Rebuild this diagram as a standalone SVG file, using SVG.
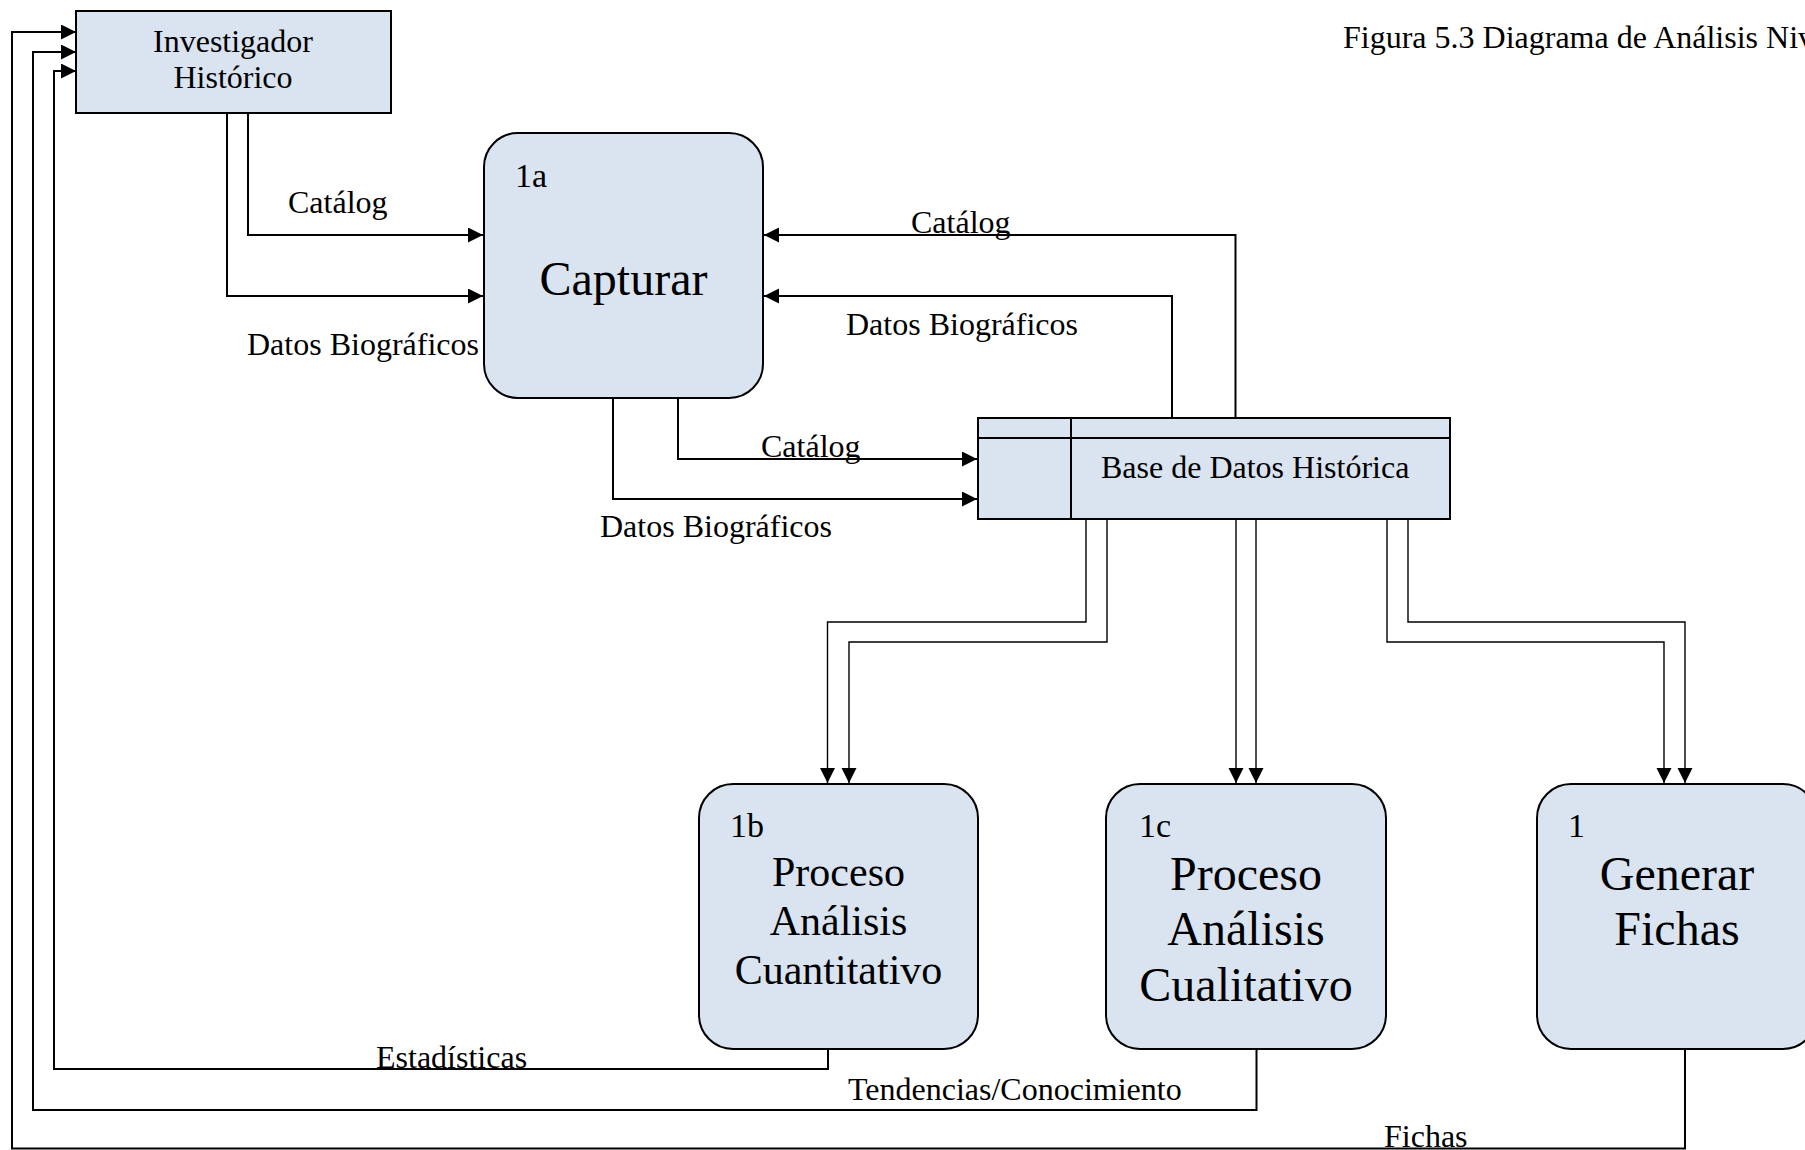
<svg xmlns="http://www.w3.org/2000/svg" width="1805" height="1150" viewBox="0 0 1805 1150">
<style>
  .box { fill: #dae3f0; stroke: #000; stroke-width: 2; }
  .ln { fill: none; stroke: #000; stroke-width: 2; }
  .ln1 { fill: none; stroke: #000; stroke-width: 1.4; }
  .t { font-family: "Liberation Serif", "Times New Roman", serif; fill: #000; }
  .s { font-size: 32px; }
  .n { font-size: 34px; }
  .big { font-size: 48px; }
  .mid { font-size: 42px; }
</style>
<defs>
  <marker id="ah" markerUnits="userSpaceOnUse" markerWidth="16" markerHeight="16" refX="15" refY="7.5" orient="auto">
    <path d="M0,0 L15,7.5 L0,15 z" fill="#000"/>
  </marker>
</defs>
<rect width="1805" height="1150" fill="#fff"/>

<text class="t s" x="1343" y="48">Figura 5.3 Diagrama de Análisis Niv</text>

<g id="investigador">
  <rect class="box" x="76" y="11" width="315" height="102"/>
  <text class="t s" x="233" y="52" text-anchor="middle">Investigador</text>
  <text class="t s" x="233" y="88" text-anchor="middle">Histórico</text>
</g>

<g id="capturar">
  <rect class="box" x="484" y="133" width="279" height="265" rx="34" ry="34"/>
  <text class="t n" x="515" y="187">1a</text>
  <text class="t big" x="623.5" y="295" text-anchor="middle">Capturar</text>
</g>

<g id="base-datos">
  <rect class="box" x="978" y="418" width="472" height="101"/>
  <line class="ln" x1="978" y1="438" x2="1450" y2="438"/>
  <line class="ln" x1="1071" y1="418" x2="1071" y2="519"/>
  <text class="t s" x="1101" y="478">Base de Datos Histórica</text>
</g>

<g id="cuantitativo">
  <rect class="box" x="699" y="784" width="279" height="265" rx="34" ry="34"/>
  <text class="t n" x="730" y="837">1b</text>
  <text class="t mid" x="838.5" y="886" text-anchor="middle">Proceso</text>
  <text class="t mid" x="838.5" y="935" text-anchor="middle">Análisis</text>
  <text class="t mid" x="838.5" y="984" text-anchor="middle">Cuantitativo</text>
</g>

<g id="cualitativo">
  <rect class="box" x="1106" y="784" width="280" height="265" rx="34" ry="34"/>
  <text class="t n" x="1139" y="837">1c</text>
  <text class="t big" x="1246" y="890" text-anchor="middle">Proceso</text>
  <text class="t big" x="1246" y="945" text-anchor="middle">Análisis</text>
  <text class="t big" x="1246" y="1001" text-anchor="middle">Cualitativo</text>
</g>

<g id="generar-fichas">
  <rect class="box" x="1537" y="784" width="280" height="265" rx="34" ry="34"/>
  <text class="t n" x="1568" y="837">1</text>
  <text class="t big" x="1677" y="890" text-anchor="middle">Generar</text>
  <text class="t big" x="1677" y="945" text-anchor="middle">Fichas</text>
</g>

<g id="connectors">
  <path class="ln" d="M248,113 V235 H483" marker-end="url(#ah)"/>
  <path class="ln" d="M227,113 V296 H483" marker-end="url(#ah)"/>
  <path class="ln" d="M1235.5,418 V235 H764" marker-end="url(#ah)"/>
  <path class="ln" d="M1172,418 V296 H764" marker-end="url(#ah)"/>
  <path class="ln" d="M678,398 V459 H977" marker-end="url(#ah)"/>
  <path class="ln" d="M613,398 V499 H977" marker-end="url(#ah)"/>

  <path class="ln1" d="M1086,519 V622 H827.5 V783" marker-end="url(#ah)"/>
  <path class="ln1" d="M1107,519 V642 H849 V783" marker-end="url(#ah)"/>
  <path class="ln1" d="M1236,519 V783" marker-end="url(#ah)"/>
  <path class="ln1" d="M1256,519 V783" marker-end="url(#ah)"/>
  <path class="ln1" d="M1408,519 V622 H1685 V783" marker-end="url(#ah)"/>
  <path class="ln1" d="M1387,519 V642 H1664 V783" marker-end="url(#ah)"/>

  <path class="ln" d="M828,1049 V1069 H54 V71 H76" marker-end="url(#ah)"/>
  <path class="ln" d="M1256.5,1049 V1110 H33 V52 H76" marker-end="url(#ah)"/>
  <path class="ln" d="M1685,1049 V1148.5 H12 V32 H76" marker-end="url(#ah)"/>

  <text class="t s" x="288" y="213">Catálog</text>
  <text class="t s" x="247" y="355">Datos Biográficos</text>
  <text class="t s" x="911" y="233">Catálog</text>
  <text class="t s" x="846" y="335">Datos Biográficos</text>
  <text class="t s" x="761" y="457">Catálog</text>
  <text class="t s" x="600" y="537">Datos Biográficos</text>
  <text class="t s" x="376" y="1068">Estadísticas</text>
  <text class="t s" x="848" y="1100">Tendencias/Conocimiento</text>
  <text class="t s" x="1384" y="1147">Fichas</text>
</g>
</svg>
